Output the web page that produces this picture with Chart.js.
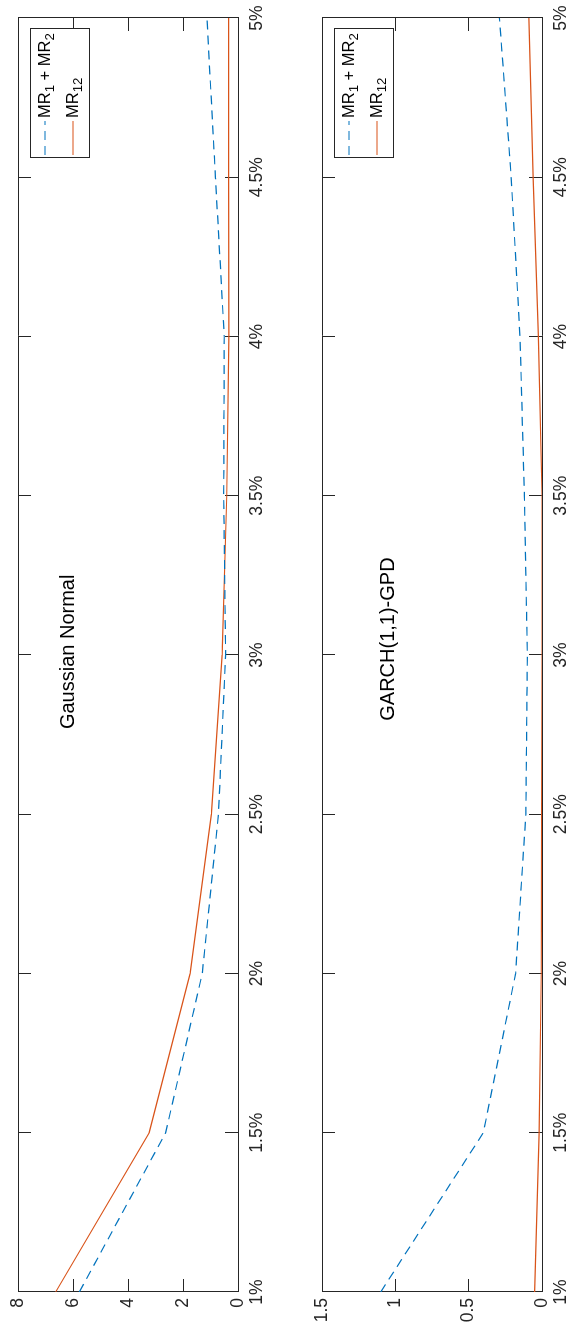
<!DOCTYPE html>
<html><head><meta charset="utf-8">
<script src="https://cdn.jsdelivr.net/npm/chart.js@4.4.0/dist/chart.umd.min.js"></script>
<style>
html,body{margin:0;padding:0;background:#fff;overflow:hidden;width:567px;height:1329px;}
#rot{position:absolute;left:0;top:0;width:1329px;height:567px;transform-origin:0 0;transform:translateY(1329px) rotate(-90deg);background:#fff;}
#c1{position:absolute;left:0;top:0;}
#c2{position:absolute;left:0;top:280px;}
</style></head><body>
<div id="rot"><canvas id="c1" width="1329" height="280"></canvas><canvas id="c2" width="1329" height="287"></canvas></div>
<script>
// ---- data ----
const xValues = [1, 1.5, 2, 2.5, 3, 3.5, 4, 4.5, 5];
const xTickLabels = ['1%', '1.5%', '2%', '2.5%', '3%', '3.5%', '4%', '4.5%', '5%'];
const seriesNames = ['MR_1 + MR_2', 'MR_{12}'];
const gaussSum = [5.77, 2.63, 1.30, 0.71, 0.45, 0.52, 0.50, 0.82, 1.13];
const gauss12  = [6.63, 3.23, 1.74, 0.97, 0.58, 0.41, 0.33, 0.34, 0.34];
const garchSum = [1.10, 0.40, 0.18, 0.11, 0.10, 0.12, 0.15, 0.21, 0.29];
const garch12  = [0.05, 0.02, 0.005, 0.002, 0.0, 0.0, 0.025, 0.06, 0.09];
const gaussYTicks = [0, 2, 4, 6, 8];
const garchYTicks = [0, 0.5, 1, 1.5];
const panelTitles = ['Gaussian Normal', 'GARCH(1,1)-GPD'];

const FONT = '"Liberation Sans", Arial, Helvetica, sans-serif';
const AX = '#262626';
const BLUE = '#0072BD', ORANGE = '#D95319';

function drawTeX(ctx, str, x, y, size) {
  let i = 0, cx = x;
  while (i < str.length) {
    if (str[i] === '_') {
      let sub;
      if (str[i + 1] === '{') { const j = str.indexOf('}', i); sub = str.slice(i + 2, j); i = j + 1; }
      else { sub = str[i + 1]; i += 2; }
      ctx.font = (size * 0.8) + 'px ' + FONT;
      ctx.fillText(sub, cx, y + size * 0.33);
      cx += ctx.measureText(sub).width;
    } else {
      let j = i; while (j < str.length && str[j] !== '_') j++;
      const s = str.slice(i, j);
      ctx.font = size + 'px ' + FONT;
      ctx.fillText(s, cx, y);
      cx += ctx.measureText(s).width;
      i = j;
    }
  }
}

const annotPlugin = {
  id: 'annot',
  afterDatasetsDraw(chart) {
    const ctx = chart.ctx, a = chart.chartArea, o = chart.options.plugins.annot;
    const xs = chart.scales.x, ys = chart.scales.y;
    ctx.save();
    ctx.fillStyle = '#000';
    ctx.font = '20px ' + FONT;
    ctx.textAlign = 'center';
    ctx.textBaseline = 'middle';
    ctx.fillText(o.title, xs.getPixelForValue(o.tx), ys.getPixelForValue(o.ty));
    const w = 129, h = 59;
    const bx = a.right - 11 - w, by = a.top + 12;
    ctx.fillStyle = '#fff';
    ctx.fillRect(bx, by, w, h);
    ctx.strokeStyle = AX; ctx.lineWidth = 1;
    ctx.strokeRect(Math.round(bx) + 0.5, Math.round(by) + 0.5, w, h);
    const rows = [by + 15, by + 43];
    chart.data.datasets.forEach((ds, k) => {
      const ry = rows[k];
      ctx.strokeStyle = ds.borderColor; ctx.lineWidth = ds.borderWidth;
      ctx.setLineDash(ds.borderDash || []);
      ctx.beginPath(); ctx.moveTo(bx + 3, ry); ctx.lineTo(bx + 37, ry); ctx.stroke();
      ctx.setLineDash([]);
      ctx.fillStyle = '#000';
      ctx.textAlign = 'left'; ctx.textBaseline = 'middle';
      drawTeX(ctx, ds.label, bx + 40, ry, 16.5);
    });
    ctx.restore();
  }
};

function makeChart(id, sumData, d12Data, yTicks, yMax, padTop, xAxisH, title, tx, ty) {
  const tickStyle = { font: { family: FONT, size: 17.5 }, color: AX };
  const grid = { drawOnChartArea: false, drawTicks: true, tickLength: -13, color: AX, lineWidth: 1 };
  const border = { display: true, color: AX, width: 1 };
  const setX = s => { s.ticks = xValues.map(v => ({ value: v })); };
  const setY = s => { s.ticks = yTicks.map(v => ({ value: v })); };
  const fixH = hgt => s => { s.height = hgt; s.paddingLeft = 0; s.paddingRight = 0; s.paddingTop = 0; s.paddingBottom = 0; };
  const fixW = wid => s => { s.width = wid; s.paddingLeft = 0; s.paddingRight = 0; s.paddingTop = 0; s.paddingBottom = 0; };
  return new Chart(document.getElementById(id), {
    type: 'line',
    data: {
      datasets: [
        { label: seriesNames[0], data: xValues.map((x, i) => ({ x, y: sumData[i] })), borderColor: BLUE, borderDash: [9, 6], borderWidth: 1.2, pointRadius: 0, fill: false, tension: 0 },
        { label: seriesNames[1], data: xValues.map((x, i) => ({ x, y: d12Data[i] })), borderColor: ORANGE, borderWidth: 1.2, pointRadius: 0, fill: false, tension: 0 }
      ]
    },
    options: {
      responsive: false, animation: false, devicePixelRatio: 1,
      layout: { padding: { left: 0, right: 18, top: padTop, bottom: 0 } },
      plugins: { legend: { display: false }, tooltip: { enabled: false }, annot: { title, tx, ty } },
      scales: {
        x: { type: 'linear', position: 'bottom', min: 1, max: 5, afterBuildTicks: setX,
             ticks: { ...tickStyle, padding: 21.5, maxRotation: 0, autoSkip: false, callback: v => xTickLabels[xValues.indexOf(v)] },
             grid, border, afterFit: fixH(xAxisH) },
        x2: { type: 'linear', position: 'top', min: 1, max: 5, afterBuildTicks: setX,
              ticks: { display: false }, grid, border, afterFit: fixH(0) },
        y: { type: 'linear', position: 'left', min: 0, max: yMax, afterBuildTicks: setY,
             ticks: { ...tickStyle, padding: 19, autoSkip: false, callback: v => String(v) },
             grid, border, afterFit: fixW(37) },
        y2: { type: 'linear', position: 'right', min: 0, max: yMax, afterBuildTicks: setY,
              ticks: { display: false }, grid, border, afterFit: fixW(0) }
      }
    },
    plugins: [annotPlugin]
  });
}

makeChart('c1', gaussSum, gauss12, gaussYTicks, 8, 18, 42, panelTitles[0], 3.01, 6.16);
makeChart('c2', garchSum, garch12, garchYTicks, 1.5, 42, 25, panelTitles[1], 3.05, 1.047);
</script>
</body></html>
